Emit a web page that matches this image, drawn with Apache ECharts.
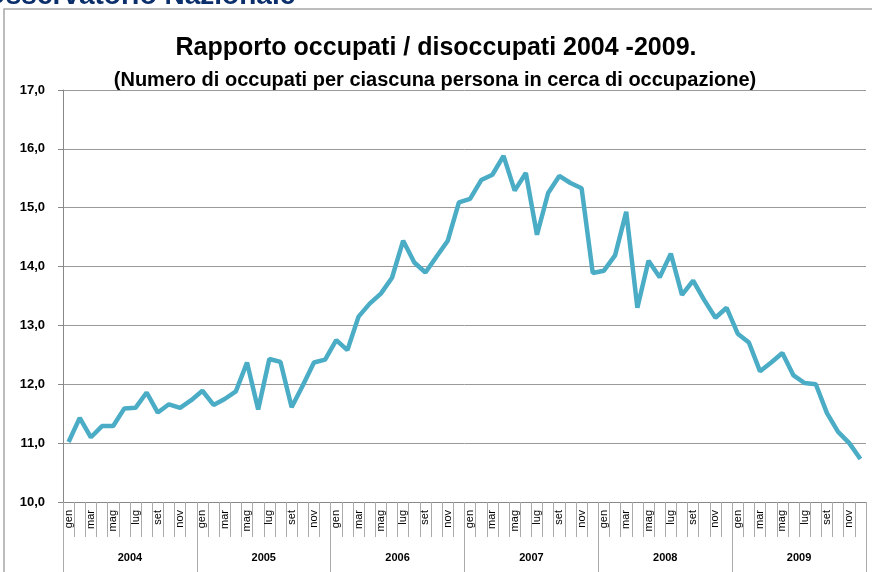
<!DOCTYPE html>
<html>
<head>
<meta charset="utf-8">
<script src="https://cdn.jsdelivr.net/npm/echarts@6/dist/echarts.min.js"></script>
<style>
html,body{margin:0;padding:0;background:#fff;}
#c{width:872px;height:572px;}
</style>
</head>
<body>
<div id="c"></div>
<script>
const years = ['2004','2005','2006','2007','2008','2009'];
const months = ['gen','feb','mar','apr','mag','giu','lug','ago','set','ott','nov','dic'];
const values = [
  11.02, 11.43, 11.10, 11.29, 11.29, 11.59, 11.60, 11.86, 11.52, 11.66, 11.60, 11.73,
  11.89, 11.65, 11.75, 11.88, 12.37, 11.57, 12.43, 12.38, 11.61, 11.98, 12.37, 12.42,
  12.75, 12.58, 13.15, 13.37, 13.54, 13.81, 14.44, 14.07, 13.90, 14.17, 14.44, 15.09,
  15.15, 15.47, 15.56, 15.88, 15.29, 15.59, 14.54, 15.25, 15.54, 15.42, 15.33, 13.89,
  13.93, 14.19, 14.93, 13.30, 14.10, 13.82, 14.22, 13.52, 13.76, 13.43, 13.13, 13.30,
  12.86, 12.71, 12.22, 12.37, 12.53, 12.15, 12.02, 12.00, 11.51, 11.19, 11.00, 10.73
];
const titleText = 'Rapporto occupati / disoccupati 2004 -2009.';
const subtitleText = '(Numero di occupati per ciascuna persona in cerca di occupazione)';
const headerText = 'Osservatorio Nazionale';

const monthCats = [];
years.forEach(y => months.forEach(m => monthCats.push(m)));

const FONT = '"Liberation Sans", Arial, sans-serif';
const chart = echarts.init(document.getElementById('c'));
chart.setOption({
  animation: false,
  backgroundColor: '#fff',
  graphic: [
    { type: 'rect', shape: { x: 4, y: 9, width: 900, height: 600 },
      style: { fill: 'none', stroke: '#a6a6a6', lineWidth: 1.5 }, z: -1 },
    { type: 'text', x: -16, y: -18,
      style: { text: headerText, font: 'bold 28px "Liberation Sans", Arial, sans-serif', fill: '#0b2f6b' } }
  ],
  title: [
    { text: titleText, left: 431, top: 31, textAlign: 'center',
      textStyle: { fontFamily: FONT, fontWeight: 'bold', fontSize: 25, color: '#000' } },
    { text: subtitleText, left: 430, top: 65, textAlign: 'center',
      textStyle: { fontFamily: FONT, fontWeight: 'bold', fontSize: 20, color: '#000' } }
  ],
  grid: { left: 63, right: 6, top: 90, bottom: 70 },
  xAxis: [
    {
      type: 'category', data: monthCats, boundaryGap: true, position: 'bottom',
      axisLine: { show: true, lineStyle: { color: '#888', width: 1 } },
      axisTick: { show: true, interval: 0, length: 35, lineStyle: { color: '#aaa', width: 1 } },
      axisLabel: { interval: 1, rotate: 90, margin: 8, fontFamily: FONT, fontSize: 11, color: '#000' },
      splitLine: { show: false }
    },
    {
      type: 'category', data: years, boundaryGap: true, position: 'bottom', offset: 35,
      axisLine: { show: false },
      axisTick: { show: true, interval: 0, length: 35, lineStyle: { color: '#aaa', width: 1 } },
      axisLabel: { interval: 0, margin: 15, fontFamily: FONT, fontWeight: 'bold', fontSize: 11, color: '#000' }
    }
  ],
  yAxis: {
    type: 'value', min: 10, max: 17, interval: 1,
    axisLine: { show: true, lineStyle: { color: '#888', width: 1 } },
    axisTick: { show: true, length: 5, lineStyle: { color: '#888' } },
    axisLabel: { margin: 18, fontFamily: FONT, fontWeight: 'bold', fontSize: 13, color: '#000',
      formatter: v => v.toFixed(1).replace('.', ',') },
    splitLine: { show: true, lineStyle: { color: '#999', width: 1 } }
  },
  series: [{
    type: 'line', data: values, xAxisIndex: 0, symbol: 'none',
    lineStyle: { color: '#4bacc6', width: 4.5 }, itemStyle: { color: '#4bacc6' }
  }]
});
</script>
</body>
</html>
